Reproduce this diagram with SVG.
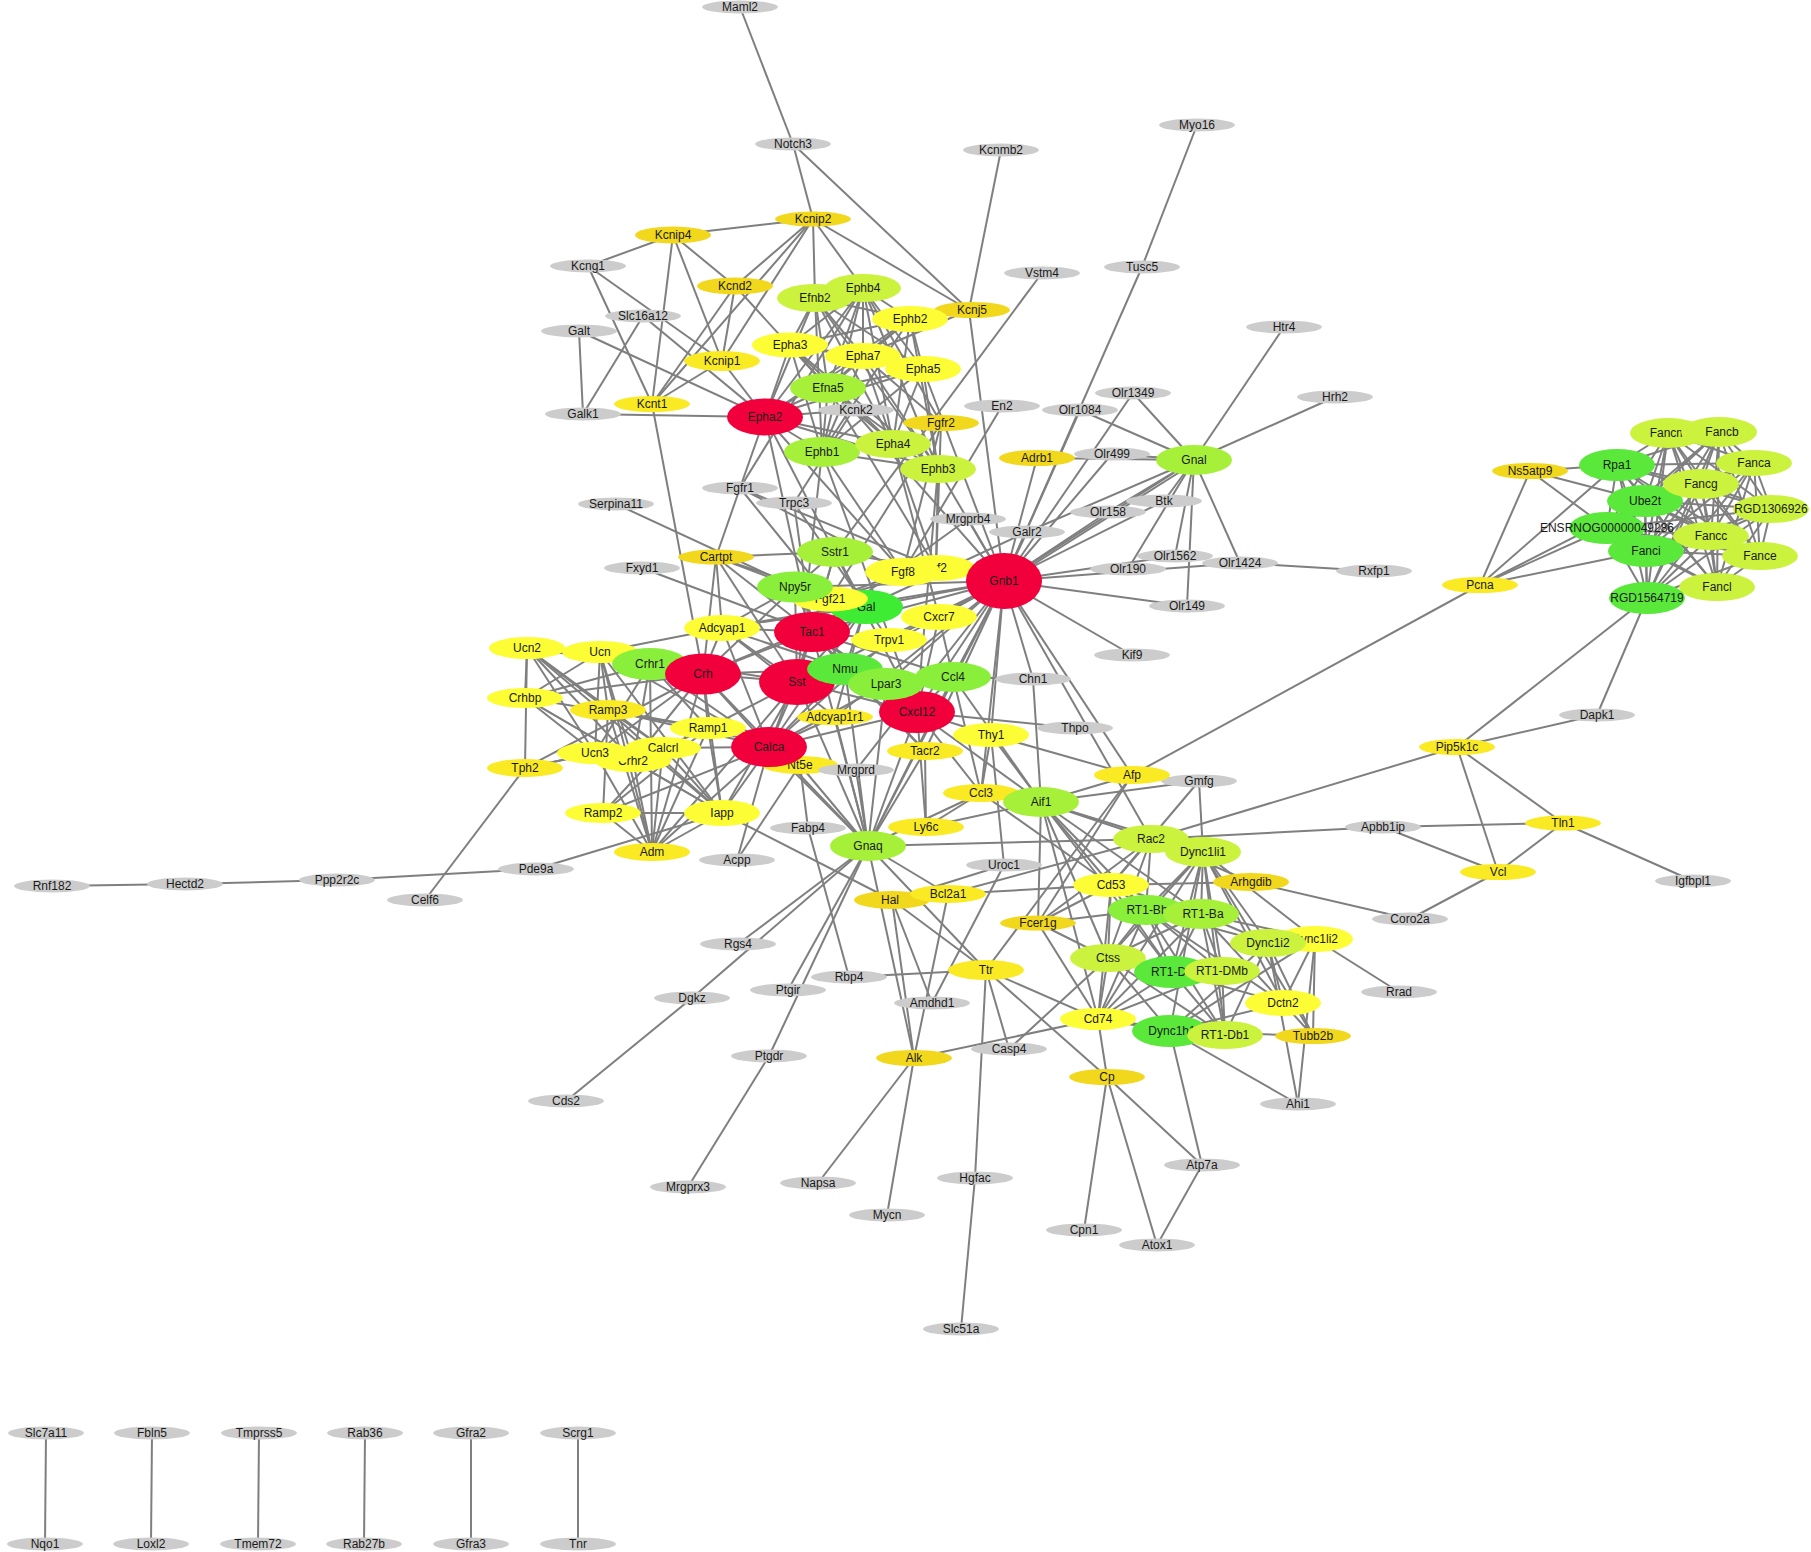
<svg xmlns="http://www.w3.org/2000/svg" width="1811" height="1552" viewBox="0 0 1811 1552">
<style>
#edges path{stroke:#7f7f7f;stroke-width:2;fill:none}
text{font-family:"Liberation Sans",Arial,sans-serif;font-size:12px;text-anchor:middle;fill:#1a1a1a}
.n ellipse{fill:#cccccc}
.r ellipse{fill:#f2003c}
.y1 ellipse{fill:#f2d81c}
.y2 ellipse{fill:#f9ea24}
.y3 ellipse{fill:#fdfd35}
.yg ellipse{fill:#cbf23c}
.g ellipse{fill:#a6f03a}
.g1 ellipse{fill:#8aef3a}
.gg ellipse{fill:#5ae83a}
.g0 ellipse{fill:#3eec34}
</style>
<rect width="1811" height="1552" fill="#ffffff"/>
<g id="edges">
<path d="M740 7L793 144"/><path d="M793 144L813 219"/><path d="M793 144L969 310"/><path d="M1001 150L969 310"/><path d="M1197 125L1142 267"/><path d="M1142 267L1004 581"/><path d="M1042 273L835 552"/><path d="M1002 406L903 572"/>
<path d="M813 219L673 235"/><path d="M813 219L735 286"/><path d="M813 219L722 361"/><path d="M813 219L652 404"/><path d="M813 219L815 298"/><path d="M813 219L863 288"/><path d="M813 219L969 310"/>
<path d="M673 235L588 266"/><path d="M673 235L735 286"/><path d="M673 235L722 361"/><path d="M673 235L652 404"/><path d="M588 266L722 361"/><path d="M588 266L652 404"/>
<path d="M643 316L583 414"/><path d="M643 316L765 417"/><path d="M579 331L583 414"/><path d="M579 331L765 417"/><path d="M583 414L765 417"/>
<path d="M735 286L652 404"/><path d="M735 286L722 361"/><path d="M735 286L828 388"/><path d="M722 361L652 404"/><path d="M722 361L765 417"/><path d="M652 404L703 674"/>
<path d="M853 410L765 417"/><path d="M853 410L794 503"/><path d="M853 410L1004 581"/><path d="M969 310L863 356"/>
<path d="M815 298L863 288"/><path d="M815 298L910 319"/><path d="M815 298L790 345"/><path d="M815 298L863 356"/><path d="M815 298L923 369"/><path d="M815 298L828 388"/><path d="M815 298L765 417"/><path d="M815 298L822 452"/><path d="M815 298L893 444"/><path d="M815 298L938 469"/>
<path d="M863 288L910 319"/><path d="M863 288L790 345"/><path d="M863 288L863 356"/><path d="M863 288L923 369"/><path d="M863 288L828 388"/><path d="M863 288L765 417"/><path d="M863 288L822 452"/><path d="M863 288L893 444"/><path d="M863 288L938 469"/>
<path d="M910 319L790 345"/><path d="M910 319L863 356"/><path d="M910 319L923 369"/><path d="M910 319L828 388"/><path d="M910 319L765 417"/><path d="M910 319L822 452"/><path d="M910 319L893 444"/><path d="M910 319L938 469"/>
<path d="M790 345L863 356"/><path d="M790 345L923 369"/><path d="M790 345L828 388"/><path d="M790 345L765 417"/><path d="M790 345L822 452"/><path d="M790 345L893 444"/><path d="M790 345L938 469"/>
<path d="M863 356L923 369"/><path d="M863 356L828 388"/><path d="M863 356L765 417"/><path d="M863 356L822 452"/><path d="M863 356L893 444"/><path d="M863 356L938 469"/>
<path d="M923 369L828 388"/><path d="M923 369L765 417"/><path d="M923 369L822 452"/><path d="M923 369L893 444"/><path d="M923 369L938 469"/>
<path d="M828 388L765 417"/><path d="M828 388L822 452"/><path d="M828 388L893 444"/><path d="M828 388L938 469"/>
<path d="M765 417L822 452"/><path d="M765 417L893 444"/><path d="M765 417L938 469"/><path d="M822 452L893 444"/><path d="M822 452L938 469"/><path d="M893 444L938 469"/>
<path d="M941 423L903 572"/><path d="M941 423L936 568"/><path d="M941 423L830 599"/><path d="M941 423L863 288"/><path d="M941 423L863 356"/>
<path d="M740 488L903 572"/><path d="M740 488L936 568"/><path d="M740 488L830 599"/><path d="M740 488L716 557"/><path d="M740 488L765 417"/><path d="M740 488L863 288"/>
<path d="M903 572L830 599"/><path d="M936 568L830 599"/>
<path d="M765 417L917 712"/><path d="M822 452L917 712"/><path d="M938 469L917 712"/><path d="M765 417L903 572"/><path d="M822 452L903 572"/><path d="M938 469L936 568"/><path d="M893 444L936 568"/><path d="M828 388L936 568"/><path d="M765 417L812 632"/><path d="M822 452L797 682"/><path d="M893 444L939 617"/><path d="M938 469L1004 581"/><path d="M923 369L1004 581"/>
<path d="M794 503L889 640"/><path d="M794 503L812 632"/><path d="M616 504L795 587"/><path d="M642 568L812 632"/>
<path d="M716 557L795 587"/><path d="M716 557L722 628"/><path d="M716 557L865 607"/><path d="M716 557L703 674"/><path d="M716 557L797 682"/><path d="M716 557L812 632"/>
<path d="M1004 581L1133 393"/><path d="M1004 581L1080 410"/><path d="M1004 581L1112 454"/><path d="M1004 581L1037 458"/><path d="M1004 581L1108 512"/><path d="M1004 581L1164 501"/><path d="M1004 581L1175 556"/><path d="M1004 581L1187 606"/><path d="M1004 581L1240 563"/><path d="M1004 581L1132 655"/><path d="M1004 581L1027 532"/><path d="M1004 581L968 519"/><path d="M1004 581L969 310"/><path d="M1004 581L1194 460"/><path d="M1004 583L1194 463"/>
<path d="M1004 581L835 552"/><path d="M1004 581L795 587"/><path d="M1004 581L939 617"/><path d="M1004 581L865 607"/><path d="M1004 581L797 682"/><path d="M1004 581L845 669"/><path d="M1004 581L886 684"/><path d="M1004 581L953 677"/><path d="M1004 581L917 712"/><path d="M1004 581L835 717"/><path d="M1004 581L925 751"/><path d="M1004 581L991 735"/><path d="M1004 581L1132 775"/><path d="M1004 581L1151 839"/><path d="M1004 581L868 846"/><path d="M1004 581L981 793"/><path d="M1004 581L856 770"/><path d="M1004 581L889 640"/><path d="M1004 581L812 632"/><path d="M1004 581L1033 679"/><path d="M1004 581L722 628"/>
<path d="M1194 460L1284 327"/><path d="M1194 460L1335 397"/><path d="M1194 460L1133 393"/><path d="M1194 460L1080 410"/><path d="M1194 460L1112 454"/><path d="M1194 460L1037 458"/><path d="M1194 460L1164 501"/><path d="M1194 460L1108 512"/><path d="M1194 460L1175 556"/><path d="M1194 460L1128 569"/><path d="M1194 460L1187 606"/><path d="M1194 460L1240 563"/><path d="M1194 460L1027 532"/>
<path d="M1240 563L1374 571"/><path d="M968 519L812 632"/><path d="M1027 532L865 607"/>
<path d="M835 552L797 682"/><path d="M835 552L795 587"/><path d="M835 552L865 607"/><path d="M835 552L812 632"/><path d="M835 552L716 557"/>
<path d="M795 587L865 607"/><path d="M795 587L812 632"/><path d="M795 587L797 682"/><path d="M795 587L703 674"/><path d="M795 587L722 628"/><path d="M795 587L845 669"/>
<path d="M865 607L812 632"/><path d="M865 607L797 682"/><path d="M865 607L703 674"/><path d="M865 607L845 669"/><path d="M865 607L769 747"/><path d="M865 607L722 628"/><path d="M865 607L835 717"/>
<path d="M812 632L925 751"/><path d="M812 632L797 682"/><path d="M812 632L703 674"/><path d="M812 632L769 747"/><path d="M812 632L845 669"/><path d="M812 632L722 628"/><path d="M812 632L917 712"/><path d="M812 632L889 640"/><path d="M812 632L953 677"/><path d="M812 632L868 846"/><path d="M812 632L886 684"/>
<path d="M797 682L703 674"/><path d="M797 682L769 747"/><path d="M797 682L845 669"/><path d="M797 682L722 628"/><path d="M797 682L868 846"/><path d="M797 682L917 712"/><path d="M797 682L722 813"/><path d="M797 682L652 852"/><path d="M797 682L600 652"/><path d="M797 682L708 728"/>
<path d="M703 674L650 664"/><path d="M703 674L633 761"/><path d="M703 674L600 652"/><path d="M703 674L527 648"/><path d="M703 674L595 753"/><path d="M703 674L525 698"/><path d="M703 674L722 628"/><path d="M703 674L769 747"/><path d="M703 674L845 669"/><path d="M703 674L708 728"/><path d="M703 674L722 813"/><path d="M703 674L652 852"/><path d="M703 674L868 846"/><path d="M703 674L525 768"/>
<path d="M600 652L527 648"/><path d="M600 652L650 664"/><path d="M600 652L633 761"/><path d="M600 652L525 698"/><path d="M600 652L595 753"/><path d="M600 652L722 628"/><path d="M600 652L769 747"/><path d="M600 652L652 852"/><path d="M600 652L608 710"/><path d="M600 652L722 813"/>
<path d="M527 648L650 664"/><path d="M527 648L633 761"/><path d="M527 648L525 698"/><path d="M527 648L595 753"/><path d="M527 648L608 710"/><path d="M527 648L525 768"/><path d="M527 648L722 813"/><path d="M527 648L663 748"/>
<path d="M595 753L650 664"/><path d="M595 753L525 698"/><path d="M595 753L525 768"/><path d="M595 753L652 852"/>
<path d="M525 698L650 664"/><path d="M525 698L633 761"/><path d="M525 698L708 728"/><path d="M525 698L722 813"/>
<path d="M650 664L633 761"/><path d="M650 664L708 728"/><path d="M650 664L769 747"/><path d="M650 664L652 852"/><path d="M633 761L652 852"/><path d="M633 761L722 813"/>
<path d="M769 747L663 748"/><path d="M769 747L708 728"/><path d="M769 747L603 813"/><path d="M769 747L608 710"/><path d="M769 747L652 852"/><path d="M769 747L722 813"/><path d="M769 747L722 628"/><path d="M769 747L845 669"/><path d="M769 747L868 846"/><path d="M769 747L917 712"/><path d="M769 747L800 765"/><path d="M769 747L737 860"/><path d="M769 747L835 717"/><path d="M769 747L889 640"/><path d="M769 747L886 684"/>
<path d="M663 748L708 728"/><path d="M663 748L603 813"/><path d="M663 748L608 710"/><path d="M663 748L652 852"/><path d="M663 748L722 813"/>
<path d="M708 728L652 852"/><path d="M708 728L722 813"/><path d="M708 728L603 813"/><path d="M708 728L608 710"/>
<path d="M603 813L652 852"/><path d="M603 813L722 813"/><path d="M603 813L608 710"/><path d="M608 710L652 852"/><path d="M608 710L722 813"/><path d="M652 852L722 813"/>
<path d="M722 813L892 900"/><path d="M722 813L536 869"/>
<path d="M722 628L835 717"/><path d="M722 628L845 669"/><path d="M835 717L868 846"/>
<path d="M845 669L886 684"/><path d="M845 669L868 846"/><path d="M845 669L917 712"/>
<path d="M886 684L953 677"/><path d="M886 684L917 712"/><path d="M886 684L868 846"/>
<path d="M953 677L917 712"/><path d="M953 677L981 793"/><path d="M953 677L939 617"/><path d="M953 677L868 846"/><path d="M953 677L1033 679"/><path d="M953 677L1041 802"/>
<path d="M917 712L939 617"/><path d="M917 712L981 793"/><path d="M917 712L868 846"/><path d="M917 712L991 735"/><path d="M917 712L1075 728"/><path d="M917 712L926 827"/><path d="M917 712L1041 802"/>
<path d="M991 735L981 793"/><path d="M991 735L1041 802"/><path d="M991 735L1004 865"/><path d="M991 735L1132 775"/>
<path d="M925 751L868 846"/><path d="M925 751L926 827"/><path d="M925 751L845 669"/>
<path d="M981 793L1041 802"/><path d="M981 793L868 846"/><path d="M981 793L926 827"/><path d="M981 793L1111 885"/><path d="M926 827L1041 802"/>
<path d="M525 768L595 753"/><path d="M525 768L425 900"/><path d="M536 869L337 880"/><path d="M337 880L185 884"/><path d="M185 884L52 886"/>
<path d="M856 770L868 846"/><path d="M800 765L808 828"/><path d="M800 765L737 860"/><path d="M800 765L868 846"/><path d="M808 828L849 977"/><path d="M849 977L986 970"/>
<path d="M868 846L1151 839"/><path d="M868 846L738 944"/><path d="M868 846L692 998"/><path d="M868 846L788 990"/><path d="M868 846L769 1056"/><path d="M868 846L948 894"/><path d="M868 846L914 1058"/><path d="M868 846L986 970"/>
<path d="M692 998L566 1101"/><path d="M769 1056L688 1187"/>
<path d="M1132 775L1480 585"/><path d="M1132 775L1199 781"/><path d="M1132 775L1041 802"/><path d="M1132 775L986 970"/><path d="M1132 775L1038 923"/>
<path d="M1199 781L1041 802"/><path d="M1199 781L1111 885"/><path d="M1199 781L1203 852"/>
<path d="M1041 802L1151 839"/><path d="M1041 802L1111 885"/><path d="M1041 802L1108 958"/><path d="M1041 802L1038 923"/><path d="M1041 802L1203 852"/><path d="M1041 802L1201 914"/><path d="M1041 802L1146 910"/><path d="M1041 802L1098 1019"/><path d="M1041 802L1033 679"/><path d="M1041 802L1172 972"/>
<path d="M1151 839L1111 885"/><path d="M1151 839L1108 958"/><path d="M1151 839L1383 827"/><path d="M1151 839L1251 882"/><path d="M1151 839L1203 852"/><path d="M1151 839L1146 910"/><path d="M1151 839L948 894"/><path d="M1151 839L1457 747"/><path d="M1151 839L1038 923"/>
<path d="M1111 885L1251 882"/><path d="M1111 885L1108 958"/><path d="M1111 885L1146 910"/><path d="M1111 885L1201 914"/><path d="M1111 885L1172 972"/><path d="M1111 885L1098 1019"/><path d="M1111 885L1038 923"/><path d="M1111 885L948 894"/>
<path d="M1146 910L1201 914"/><path d="M1146 910L1172 972"/><path d="M1146 910L1222 971"/><path d="M1146 910L1225 1035"/><path d="M1146 910L1098 1019"/><path d="M1146 910L1108 958"/>
<path d="M1201 914L1172 972"/><path d="M1201 914L1222 971"/><path d="M1201 914L1225 1035"/><path d="M1201 914L1098 1019"/><path d="M1201 914L1108 958"/>
<path d="M1172 972L1222 971"/><path d="M1172 972L1225 1035"/><path d="M1172 972L1098 1019"/><path d="M1172 972L1108 958"/>
<path d="M1222 971L1225 1035"/><path d="M1222 971L1098 1019"/><path d="M1222 971L1108 958"/><path d="M1225 1035L1098 1019"/><path d="M1225 1035L1108 958"/><path d="M1098 1019L1108 958"/>
<path d="M1038 923L1108 958"/><path d="M1038 923L1146 910"/><path d="M1038 923L1098 1019"/>
<path d="M1203 852L1315 939"/><path d="M1203 852L1268 943"/><path d="M1203 852L1170 1031"/><path d="M1203 852L1283 1003"/><path d="M1203 852L1313 1036"/>
<path d="M1315 939L1268 943"/><path d="M1315 939L1170 1031"/><path d="M1315 939L1283 1003"/><path d="M1315 939L1313 1036"/>
<path d="M1268 943L1170 1031"/><path d="M1268 943L1283 1003"/><path d="M1268 943L1313 1036"/><path d="M1170 1031L1283 1003"/><path d="M1170 1031L1313 1036"/><path d="M1283 1003L1313 1036"/>
<path d="M1203 852L1172 972"/><path d="M1203 852L1225 1035"/><path d="M1203 852L1108 958"/><path d="M1203 852L1098 1019"/><path d="M1203 852L1222 971"/><path d="M1268 943L1146 910"/><path d="M1268 943L1201 914"/><path d="M1170 1031L1108 958"/><path d="M1170 1031L1098 1019"/><path d="M1315 939L1201 914"/><path d="M1283 1003L1146 910"/><path d="M1283 1003L1201 914"/><path d="M1203 852L1146 910"/><path d="M1203 852L1201 914"/><path d="M1268 943L1225 1035"/><path d="M1283 1003L1172 972"/>
<path d="M1251 882L1410 919"/><path d="M1383 827L1563 823"/><path d="M1383 827L1498 872"/>
<path d="M1457 747L1563 823"/><path d="M1457 747L1498 872"/><path d="M1457 747L1597 715"/><path d="M1457 747L1647 598"/>
<path d="M1563 823L1498 872"/><path d="M1563 823L1693 881"/><path d="M1498 872L1410 919"/><path d="M1597 715L1647 598"/>
<path d="M1315 939L1399 992"/><path d="M1298 1104L1170 1031"/><path d="M1298 1104L1315 939"/><path d="M1298 1104L1268 943"/>
<path d="M1202 1165L1170 1031"/><path d="M1202 1165L1157 1245"/><path d="M1202 1165L1107 1077"/>
<path d="M1107 1077L1098 1019"/><path d="M1107 1077L986 970"/><path d="M1107 1077L1084 1230"/><path d="M1107 1077L1157 1245"/>
<path d="M1098 1019L914 1058"/><path d="M1098 1019L986 970"/><path d="M1108 958L1009 1049"/><path d="M1009 1049L986 970"/>
<path d="M986 970L892 900"/><path d="M986 970L975 1178"/><path d="M975 1178L961 1329"/>
<path d="M892 900L948 894"/><path d="M892 900L1004 865"/><path d="M892 900L932 1003"/><path d="M892 900L914 1058"/><path d="M1004 865L932 1003"/><path d="M948 894L914 1058"/>
<path d="M914 1058L818 1183"/><path d="M914 1058L887 1215"/>
<path d="M1480 585L1530 471"/><path d="M1480 585L1617 465"/><path d="M1480 585L1645 501"/><path d="M1480 585L1607 528"/><path d="M1480 585L1646 551"/>
<path d="M1530 471L1617 465"/><path d="M1530 471L1645 501"/><path d="M1530 471L1607 528"/>
<path d="M1668 433L1719 432"/><path d="M1668 433L1617 465"/><path d="M1668 433L1754 463"/><path d="M1668 433L1701 484"/><path d="M1668 433L1645 501"/><path d="M1668 433L1771 509"/><path d="M1668 433L1607 528"/><path d="M1668 433L1711 536"/><path d="M1668 433L1646 551"/><path d="M1668 433L1760 556"/><path d="M1668 433L1717 587"/><path d="M1668 433L1647 598"/>
<path d="M1719 432L1617 465"/><path d="M1719 432L1754 463"/><path d="M1719 432L1701 484"/><path d="M1719 432L1645 501"/><path d="M1719 432L1771 509"/><path d="M1719 432L1607 528"/><path d="M1719 432L1711 536"/><path d="M1719 432L1646 551"/><path d="M1719 432L1760 556"/><path d="M1719 432L1717 587"/><path d="M1719 432L1647 598"/>
<path d="M1617 465L1754 463"/><path d="M1617 465L1701 484"/><path d="M1617 465L1645 501"/><path d="M1617 465L1771 509"/><path d="M1617 465L1607 528"/><path d="M1617 465L1711 536"/><path d="M1617 465L1646 551"/><path d="M1617 465L1760 556"/><path d="M1617 465L1717 587"/><path d="M1617 465L1647 598"/>
<path d="M1754 463L1701 484"/><path d="M1754 463L1645 501"/><path d="M1754 463L1771 509"/><path d="M1754 463L1607 528"/><path d="M1754 463L1711 536"/><path d="M1754 463L1646 551"/><path d="M1754 463L1760 556"/><path d="M1754 463L1717 587"/><path d="M1754 463L1647 598"/>
<path d="M1701 484L1645 501"/><path d="M1701 484L1771 509"/><path d="M1701 484L1607 528"/><path d="M1701 484L1711 536"/><path d="M1701 484L1646 551"/><path d="M1701 484L1760 556"/><path d="M1701 484L1717 587"/><path d="M1701 484L1647 598"/>
<path d="M1645 501L1771 509"/><path d="M1645 501L1607 528"/><path d="M1645 501L1711 536"/><path d="M1645 501L1646 551"/><path d="M1645 501L1760 556"/><path d="M1645 501L1717 587"/><path d="M1645 501L1647 598"/>
<path d="M1771 509L1607 528"/><path d="M1771 509L1711 536"/><path d="M1771 509L1646 551"/><path d="M1771 509L1760 556"/><path d="M1771 509L1717 587"/><path d="M1771 509L1647 598"/>
<path d="M1607 528L1711 536"/><path d="M1607 528L1646 551"/><path d="M1607 528L1760 556"/><path d="M1607 528L1717 587"/><path d="M1607 528L1647 598"/>
<path d="M1711 536L1646 551"/><path d="M1711 536L1760 556"/><path d="M1711 536L1717 587"/><path d="M1711 536L1647 598"/>
<path d="M1646 551L1760 556"/><path d="M1646 551L1717 587"/><path d="M1646 551L1647 598"/><path d="M1760 556L1717 587"/><path d="M1760 556L1647 598"/><path d="M1717 587L1647 598"/>
<path d="M46 1433L45 1544"/><path d="M152 1433L151 1544"/><path d="M259 1433L258 1544"/><path d="M365 1433L364 1544"/><path d="M471 1433L471 1544"/><path d="M578 1433L578 1544"/>
</g>
<g id="nodes">
<g id="n-Maml2" class="n"><ellipse cx="740" cy="7" rx="38" ry="6.5"/><text x="740" y="11">Maml2</text></g>
<g id="n-Notch3" class="n"><ellipse cx="793" cy="144" rx="38" ry="6.5"/><text x="793" y="148">Notch3</text></g>
<g id="n-Myo16" class="n"><ellipse cx="1197" cy="125" rx="38" ry="6.5"/><text x="1197" y="129">Myo16</text></g>
<g id="n-Kcnmb2" class="n"><ellipse cx="1001" cy="150" rx="38" ry="6.5"/><text x="1001" y="154">Kcnmb2</text></g>
<g id="n-Kcng1" class="n"><ellipse cx="588" cy="266" rx="38" ry="6.5"/><text x="588" y="270">Kcng1</text></g>
<g id="n-Vstm4" class="n"><ellipse cx="1042" cy="273" rx="38" ry="6.5"/><text x="1042" y="277">Vstm4</text></g>
<g id="n-Tusc5" class="n"><ellipse cx="1142" cy="267" rx="38" ry="6.5"/><text x="1142" y="271">Tusc5</text></g>
<g id="n-Slc16a12" class="n"><ellipse cx="643" cy="316" rx="38" ry="6.5"/><text x="643" y="320">Slc16a12</text></g>
<g id="n-Galt" class="n"><ellipse cx="579" cy="331" rx="38" ry="6.5"/><text x="579" y="335">Galt</text></g>
<g id="n-Htr4" class="n"><ellipse cx="1284" cy="327" rx="38" ry="6.5"/><text x="1284" y="331">Htr4</text></g>
<g id="n-Hrh2" class="n"><ellipse cx="1335" cy="397" rx="38" ry="6.5"/><text x="1335" y="401">Hrh2</text></g>
<g id="n-Olr1349" class="n"><ellipse cx="1133" cy="393" rx="38" ry="6.5"/><text x="1133" y="397">Olr1349</text></g>
<g id="n-Olr1084" class="n"><ellipse cx="1080" cy="410" rx="38" ry="6.5"/><text x="1080" y="414">Olr1084</text></g>
<g id="n-En2" class="n"><ellipse cx="1002" cy="406" rx="38" ry="6.5"/><text x="1002" y="410">En2</text></g>
<g id="n-Kcnk2" class="n"><ellipse cx="856" cy="410" rx="38" ry="6.5"/><text x="856" y="414">Kcnk2</text></g>
<g id="n-Galk1" class="n"><ellipse cx="583" cy="414" rx="38" ry="6.5"/><text x="583" y="418">Galk1</text></g>
<g id="n-Olr499" class="n"><ellipse cx="1112" cy="454" rx="38" ry="6.5"/><text x="1112" y="458">Olr499</text></g>
<g id="n-Fgfr1" class="n"><ellipse cx="740" cy="488" rx="38" ry="6.5"/><text x="740" y="492">Fgfr1</text></g>
<g id="n-Trpc3" class="n"><ellipse cx="794" cy="503" rx="38" ry="6.5"/><text x="794" y="507">Trpc3</text></g>
<g id="n-Serpina11" class="n"><ellipse cx="616" cy="504" rx="38" ry="6.5"/><text x="616" y="508">Serpina11</text></g>
<g id="n-Olr158" class="n"><ellipse cx="1108" cy="512" rx="38" ry="6.5"/><text x="1108" y="516">Olr158</text></g>
<g id="n-Btk" class="n"><ellipse cx="1164" cy="501" rx="38" ry="6.5"/><text x="1164" y="505">Btk</text></g>
<g id="n-Mrgprb4" class="n"><ellipse cx="968" cy="519" rx="38" ry="6.5"/><text x="968" y="523">Mrgprb4</text></g>
<g id="n-Galr2" class="n"><ellipse cx="1027" cy="532" rx="38" ry="6.5"/><text x="1027" y="536">Galr2</text></g>
<g id="n-Fxyd1" class="n"><ellipse cx="642" cy="568" rx="38" ry="6.5"/><text x="642" y="572">Fxyd1</text></g>
<g id="n-Olr190" class="n"><ellipse cx="1128" cy="569" rx="38" ry="6.5"/><text x="1128" y="573">Olr190</text></g>
<g id="n-Olr1562" class="n"><ellipse cx="1175" cy="556" rx="38" ry="6.5"/><text x="1175" y="560">Olr1562</text></g>
<g id="n-Olr1424" class="n"><ellipse cx="1240" cy="563" rx="38" ry="6.5"/><text x="1240" y="567">Olr1424</text></g>
<g id="n-Rxfp1" class="n"><ellipse cx="1374" cy="571" rx="38" ry="6.5"/><text x="1374" y="575">Rxfp1</text></g>
<g id="n-Olr149" class="n"><ellipse cx="1187" cy="606" rx="38" ry="6.5"/><text x="1187" y="610">Olr149</text></g>
<g id="n-Kif9" class="n"><ellipse cx="1132" cy="655" rx="38" ry="6.5"/><text x="1132" y="659">Kif9</text></g>
<g id="n-Chn1" class="n"><ellipse cx="1033" cy="679" rx="38" ry="6.5"/><text x="1033" y="683">Chn1</text></g>
<g id="n-Thpo" class="n"><ellipse cx="1075" cy="728" rx="38" ry="6.5"/><text x="1075" y="732">Thpo</text></g>
<g id="n-Dapk1" class="n"><ellipse cx="1597" cy="715" rx="38" ry="6.5"/><text x="1597" y="719">Dapk1</text></g>
<g id="n-Gmfg" class="n"><ellipse cx="1199" cy="781" rx="38" ry="6.5"/><text x="1199" y="785">Gmfg</text></g>
<g id="n-Apbb1ip" class="n"><ellipse cx="1383" cy="827" rx="38" ry="6.5"/><text x="1383" y="831">Apbb1ip</text></g>
<g id="n-Fabp4" class="n"><ellipse cx="808" cy="828" rx="38" ry="6.5"/><text x="808" y="832">Fabp4</text></g>
<g id="n-Acpp" class="n"><ellipse cx="737" cy="860" rx="38" ry="6.5"/><text x="737" y="864">Acpp</text></g>
<g id="n-Uroc1" class="n"><ellipse cx="1004" cy="865" rx="38" ry="6.5"/><text x="1004" y="869">Uroc1</text></g>
<g id="n-Pde9a" class="n"><ellipse cx="536" cy="869" rx="38" ry="6.5"/><text x="536" y="873">Pde9a</text></g>
<g id="n-Rnf182" class="n"><ellipse cx="52" cy="886" rx="38" ry="6.5"/><text x="52" y="890">Rnf182</text></g>
<g id="n-Hectd2" class="n"><ellipse cx="185" cy="884" rx="38" ry="6.5"/><text x="185" y="888">Hectd2</text></g>
<g id="n-Ppp2r2c" class="n"><ellipse cx="337" cy="880" rx="38" ry="6.5"/><text x="337" y="884">Ppp2r2c</text></g>
<g id="n-Celf6" class="n"><ellipse cx="425" cy="900" rx="38" ry="6.5"/><text x="425" y="904">Celf6</text></g>
<g id="n-Igfbpl1" class="n"><ellipse cx="1693" cy="881" rx="38" ry="6.5"/><text x="1693" y="885">Igfbpl1</text></g>
<g id="n-Coro2a" class="n"><ellipse cx="1410" cy="919" rx="38" ry="6.5"/><text x="1410" y="923">Coro2a</text></g>
<g id="n-Rgs4" class="n"><ellipse cx="738" cy="944" rx="38" ry="6.5"/><text x="738" y="948">Rgs4</text></g>
<g id="n-Rbp4" class="n"><ellipse cx="849" cy="977" rx="38" ry="6.5"/><text x="849" y="981">Rbp4</text></g>
<g id="n-Ptgir" class="n"><ellipse cx="788" cy="990" rx="38" ry="6.5"/><text x="788" y="994">Ptgir</text></g>
<g id="n-Dgkz" class="n"><ellipse cx="692" cy="998" rx="38" ry="6.5"/><text x="692" y="1002">Dgkz</text></g>
<g id="n-Rrad" class="n"><ellipse cx="1399" cy="992" rx="38" ry="6.5"/><text x="1399" y="996">Rrad</text></g>
<g id="n-Amdhd1" class="n"><ellipse cx="932" cy="1003" rx="38" ry="6.5"/><text x="932" y="1007">Amdhd1</text></g>
<g id="n-Casp4" class="n"><ellipse cx="1009" cy="1049" rx="38" ry="6.5"/><text x="1009" y="1053">Casp4</text></g>
<g id="n-Ptgdr" class="n"><ellipse cx="769" cy="1056" rx="38" ry="6.5"/><text x="769" y="1060">Ptgdr</text></g>
<g id="n-Cds2" class="n"><ellipse cx="566" cy="1101" rx="38" ry="6.5"/><text x="566" y="1105">Cds2</text></g>
<g id="n-Ahi1" class="n"><ellipse cx="1298" cy="1104" rx="38" ry="6.5"/><text x="1298" y="1108">Ahi1</text></g>
<g id="n-Atp7a" class="n"><ellipse cx="1202" cy="1165" rx="38" ry="6.5"/><text x="1202" y="1169">Atp7a</text></g>
<g id="n-Hgfac" class="n"><ellipse cx="975" cy="1178" rx="38" ry="6.5"/><text x="975" y="1182">Hgfac</text></g>
<g id="n-Napsa" class="n"><ellipse cx="818" cy="1183" rx="38" ry="6.5"/><text x="818" y="1187">Napsa</text></g>
<g id="n-Mrgprx3" class="n"><ellipse cx="688" cy="1187" rx="38" ry="6.5"/><text x="688" y="1191">Mrgprx3</text></g>
<g id="n-Mycn" class="n"><ellipse cx="887" cy="1215" rx="38" ry="6.5"/><text x="887" y="1219">Mycn</text></g>
<g id="n-Cpn1" class="n"><ellipse cx="1084" cy="1230" rx="38" ry="6.5"/><text x="1084" y="1234">Cpn1</text></g>
<g id="n-Atox1" class="n"><ellipse cx="1157" cy="1245" rx="38" ry="6.5"/><text x="1157" y="1249">Atox1</text></g>
<g id="n-Slc51a" class="n"><ellipse cx="961" cy="1329" rx="38" ry="6.5"/><text x="961" y="1333">Slc51a</text></g>
<g id="n-Slc7a11" class="n"><ellipse cx="46" cy="1433" rx="38" ry="6.5"/><text x="46" y="1437">Slc7a11</text></g>
<g id="n-Nqo1" class="n"><ellipse cx="45" cy="1544" rx="38" ry="6.5"/><text x="45" y="1548">Nqo1</text></g>
<g id="n-Fbln5" class="n"><ellipse cx="152" cy="1433" rx="38" ry="6.5"/><text x="152" y="1437">Fbln5</text></g>
<g id="n-Loxl2" class="n"><ellipse cx="151" cy="1544" rx="38" ry="6.5"/><text x="151" y="1548">Loxl2</text></g>
<g id="n-Tmprss5" class="n"><ellipse cx="259" cy="1433" rx="38" ry="6.5"/><text x="259" y="1437">Tmprss5</text></g>
<g id="n-Tmem72" class="n"><ellipse cx="258" cy="1544" rx="38" ry="6.5"/><text x="258" y="1548">Tmem72</text></g>
<g id="n-Rab36" class="n"><ellipse cx="365" cy="1433" rx="38" ry="6.5"/><text x="365" y="1437">Rab36</text></g>
<g id="n-Rab27b" class="n"><ellipse cx="364" cy="1544" rx="38" ry="6.5"/><text x="364" y="1548">Rab27b</text></g>
<g id="n-Gfra2" class="n"><ellipse cx="471" cy="1433" rx="38" ry="6.5"/><text x="471" y="1437">Gfra2</text></g>
<g id="n-Gfra3" class="n"><ellipse cx="471" cy="1544" rx="38" ry="6.5"/><text x="471" y="1548">Gfra3</text></g>
<g id="n-Scrg1" class="n"><ellipse cx="578" cy="1433" rx="38" ry="6.5"/><text x="578" y="1437">Scrg1</text></g>
<g id="n-Tnr" class="n"><ellipse cx="578" cy="1544" rx="38" ry="6.5"/><text x="578" y="1548">Tnr</text></g>

<g id="n-Kcnip2" class="y1"><ellipse cx="813" cy="219" rx="38" ry="7.5"/><text x="813" y="223">Kcnip2</text></g>
<g id="n-Kcnip4" class="y1"><ellipse cx="673" cy="235" rx="38" ry="8.5"/><text x="673" y="239">Kcnip4</text></g>
<g id="n-Kcnd2" class="y1"><ellipse cx="735" cy="286" rx="38" ry="8.5"/><text x="735" y="290">Kcnd2</text></g>
<g id="n-Kcnj5" class="y1"><ellipse cx="972" cy="310" rx="38" ry="8"/><text x="972" y="314">Kcnj5</text></g>
<g id="n-Efnb2" class="yg"><ellipse cx="815" cy="298" rx="38" ry="14"/><text x="815" y="302">Efnb2</text></g>
<g id="n-Ephb4" class="yg"><ellipse cx="863" cy="288" rx="38" ry="14"/><text x="863" y="292">Ephb4</text></g>
<g id="n-Ephb2" class="y3"><ellipse cx="910" cy="319" rx="38" ry="13"/><text x="910" y="323">Ephb2</text></g>
<g id="n-Epha3" class="y3"><ellipse cx="790" cy="345" rx="38" ry="12.5"/><text x="790" y="349">Epha3</text></g>
<g id="n-Kcnip1" class="y2"><ellipse cx="722" cy="361" rx="38" ry="10"/><text x="722" y="365">Kcnip1</text></g>
<g id="n-Epha7" class="y3"><ellipse cx="863" cy="356" rx="38" ry="13"/><text x="863" y="360">Epha7</text></g>
<g id="n-Epha5" class="y3"><ellipse cx="923" cy="369" rx="38" ry="13"/><text x="923" y="373">Epha5</text></g>
<g id="n-Kcnt1" class="y2"><ellipse cx="652" cy="404" rx="38" ry="8"/><text x="652" y="408">Kcnt1</text></g>
<g id="n-Epha2" class="r"><ellipse cx="765" cy="417" rx="38" ry="18.5"/><text x="765" y="421">Epha2</text></g>
<g id="n-Efna5" class="g"><ellipse cx="828" cy="388" rx="38" ry="15"/><text x="828" y="392">Efna5</text></g>
<g id="n-Fgfr2" class="y1"><ellipse cx="941" cy="423" rx="38" ry="8"/><text x="941" y="427">Fgfr2</text></g>
<g id="n-Ephb1" class="g"><ellipse cx="822" cy="452" rx="38" ry="15"/><text x="822" y="456">Ephb1</text></g>
<g id="n-Epha4" class="yg"><ellipse cx="893" cy="444" rx="38" ry="14"/><text x="893" y="448">Epha4</text></g>
<g id="n-Ephb3" class="yg"><ellipse cx="938" cy="469" rx="38" ry="14"/><text x="938" y="473">Ephb3</text></g>
<g id="n-Adrb1" class="y1"><ellipse cx="1037" cy="458" rx="38" ry="8"/><text x="1037" y="462">Adrb1</text></g>
<g id="n-Gnal" class="g"><ellipse cx="1194" cy="460" rx="38" ry="15"/><text x="1194" y="464">Gnal</text></g>
<g id="n-Cartpt" class="y1"><ellipse cx="716" cy="557" rx="38" ry="7.5"/><text x="716" y="561">Cartpt</text></g>
<g id="n-Sstr1" class="g"><ellipse cx="835" cy="552" rx="38" ry="15"/><text x="835" y="556">Sstr1</text></g>
<g id="n-Fgf2" class="y3"><ellipse cx="937" cy="568" rx="38" ry="13"/><text x="935" y="572">Fgf2</text></g>
<g id="n-Fgf8" class="y3"><ellipse cx="903" cy="572" rx="38" ry="14"/><text x="903" y="576">Fgf8</text></g>
<g id="n-Gnb1" class="r"><ellipse cx="1004" cy="581" rx="38" ry="28"/><text x="1004" y="585">Gnb1</text></g>
<g id="n-Gal" class="g0"><ellipse cx="866" cy="607" rx="37" ry="17"/><text x="866" y="611">Gal</text></g>
<g id="n-Fgf21" class="y3"><ellipse cx="830" cy="599" rx="38" ry="12.5"/><text x="830" y="603">Fgf21</text></g>
<g id="n-Npy5r" class="g1"><ellipse cx="795" cy="587" rx="38" ry="15.5"/><text x="795" y="591">Npy5r</text></g>
<g id="n-Cxcr7" class="y3"><ellipse cx="939" cy="617" rx="38" ry="13"/><text x="939" y="621">Cxcr7</text></g>
<g id="n-Trpv1" class="y3"><ellipse cx="889" cy="640" rx="38" ry="12"/><text x="889" y="644">Trpv1</text></g>
<g id="n-Tac1" class="r"><ellipse cx="812" cy="632" rx="38" ry="20"/><text x="812" y="636">Tac1</text></g>
<g id="n-Adcyap1" class="y3"><ellipse cx="722" cy="628" rx="38" ry="13"/><text x="722" y="632">Adcyap1</text></g>
<g id="n-Ucn2" class="y3"><ellipse cx="527" cy="648" rx="38" ry="11"/><text x="527" y="652">Ucn2</text></g>
<g id="n-Ucn" class="y3"><ellipse cx="600" cy="652" rx="38" ry="11"/><text x="600" y="656">Ucn</text></g>
<g id="n-Crhr1" class="g1"><ellipse cx="650" cy="664" rx="38" ry="16"/><text x="650" y="668">Crhr1</text></g>
<g id="n-Crh" class="r"><ellipse cx="703" cy="674" rx="38" ry="20.5"/><text x="703" y="678">Crh</text></g>
<g id="n-Sst" class="r"><ellipse cx="797" cy="682" rx="38" ry="23"/><text x="797" y="686">Sst</text></g>
<g id="n-Nmu" class="gg"><ellipse cx="845" cy="669" rx="38" ry="16"/><text x="845" y="673">Nmu</text></g>
<g id="n-Ccl4" class="g1"><ellipse cx="953" cy="677" rx="38" ry="15"/><text x="953" y="681">Ccl4</text></g>
<g id="n-Cxcl12" class="r"><ellipse cx="917" cy="712" rx="38" ry="21"/><text x="917" y="716">Cxcl12</text></g>
<g id="n-Lpar3" class="g1"><ellipse cx="886" cy="684" rx="38" ry="16"/><text x="886" y="688">Lpar3</text></g>
<g id="n-Crhbp" class="y3"><ellipse cx="525" cy="698" rx="38" ry="10"/><text x="525" y="702">Crhbp</text></g>
<g id="n-Ramp3" class="y2"><ellipse cx="608" cy="710" rx="38" ry="10"/><text x="608" y="714">Ramp3</text></g>
<g id="n-Adcyap1r1" class="y2"><ellipse cx="835" cy="717" rx="38" ry="8"/><text x="835" y="721">Adcyap1r1</text></g>
<g id="n-Ramp1" class="y3"><ellipse cx="708" cy="728" rx="38" ry="11"/><text x="708" y="732">Ramp1</text></g>
<g id="n-Thy1" class="y3"><ellipse cx="991" cy="735" rx="38" ry="12"/><text x="991" y="739">Thy1</text></g>
<g id="n-Nt5e" class="y2"><ellipse cx="800" cy="765" rx="38" ry="9"/><text x="800" y="769">Nt5e</text></g>
<g id="n-Calca" class="r"><ellipse cx="769" cy="747" rx="38" ry="20"/><text x="769" y="751">Calca</text></g>
<g id="n-Mrgprd" class="n"><ellipse cx="856" cy="770" rx="38" ry="6.5"/><text x="856" y="774">Mrgprd</text></g>
<g id="n-Tacr2" class="y2"><ellipse cx="925" cy="751" rx="38" ry="9"/><text x="925" y="755">Tacr2</text></g>
<g id="n-Calcrl" class="y3"><ellipse cx="663" cy="748" rx="38" ry="11"/><text x="663" y="752">Calcrl</text></g>
<g id="n-Crhr2" class="y3"><ellipse cx="633" cy="761" rx="38" ry="11"/><text x="633" y="765">Crhr2</text></g>
<g id="n-Ucn3" class="y3"><ellipse cx="595" cy="753" rx="38" ry="11"/><text x="595" y="757">Ucn3</text></g>
<g id="n-Tph2" class="y2"><ellipse cx="525" cy="768" rx="38" ry="9"/><text x="525" y="772">Tph2</text></g>
<g id="n-Afp" class="y2"><ellipse cx="1132" cy="775" rx="38" ry="9"/><text x="1132" y="779">Afp</text></g>
<g id="n-Ccl3" class="y2"><ellipse cx="981" cy="793" rx="38" ry="9"/><text x="981" y="797">Ccl3</text></g>
<g id="n-Aif1" class="g"><ellipse cx="1041" cy="802" rx="38" ry="15"/><text x="1041" y="806">Aif1</text></g>
<g id="n-Ramp2" class="y3"><ellipse cx="603" cy="813" rx="38" ry="10"/><text x="603" y="817">Ramp2</text></g>
<g id="n-Iapp" class="y3"><ellipse cx="722" cy="813" rx="38" ry="13"/><text x="722" y="817">Iapp</text></g>
<g id="n-Ly6c" class="y2"><ellipse cx="926" cy="827" rx="38" ry="9"/><text x="926" y="831">Ly6c</text></g>
<g id="n-Gnaq" class="g"><ellipse cx="868" cy="846" rx="38" ry="15"/><text x="868" y="850">Gnaq</text></g>
<g id="n-Adm" class="y2"><ellipse cx="652" cy="852" rx="38" ry="9"/><text x="652" y="856">Adm</text></g>
<g id="n-Rac2" class="yg"><ellipse cx="1151" cy="839" rx="38" ry="14"/><text x="1151" y="843">Rac2</text></g>
<g id="n-Dync1li1" class="yg"><ellipse cx="1203" cy="852" rx="38" ry="15"/><text x="1203" y="856">Dync1li1</text></g>
<g id="n-Pip5k1c" class="y2"><ellipse cx="1457" cy="747" rx="38" ry="8"/><text x="1457" y="751">Pip5k1c</text></g>
<g id="n-Tln1" class="y2"><ellipse cx="1563" cy="823" rx="38" ry="7.5"/><text x="1563" y="827">Tln1</text></g>
<g id="n-Vcl" class="y2"><ellipse cx="1498" cy="872" rx="38" ry="8"/><text x="1498" y="876">Vcl</text></g>
<g id="n-Arhgdib" class="y1"><ellipse cx="1251" cy="882" rx="38" ry="9"/><text x="1251" y="886">Arhgdib</text></g>
<g id="n-Cd53" class="y3"><ellipse cx="1111" cy="885" rx="38" ry="12"/><text x="1111" y="889">Cd53</text></g>
<g id="n-Hal" class="y1"><ellipse cx="892" cy="900" rx="38" ry="9"/><text x="890" y="904">Hal</text></g>
<g id="n-Bcl2a1" class="y2"><ellipse cx="948" cy="894" rx="38" ry="9"/><text x="948" y="898">Bcl2a1</text></g>
<g id="n-RT1-Bb" class="g1"><ellipse cx="1146" cy="910" rx="38" ry="15"/><text x="1147" y="914">RT1-Bb</text></g>
<g id="n-RT1-Ba" class="g"><ellipse cx="1201" cy="914" rx="38" ry="15"/><text x="1203" y="918">RT1-Ba</text></g>
<g id="n-Fcer1g" class="y1"><ellipse cx="1038" cy="923" rx="38" ry="7.5"/><text x="1038" y="927">Fcer1g</text></g>
<g id="n-Dync1li2" class="y3"><ellipse cx="1315" cy="939" rx="38" ry="13"/><text x="1315" y="943">Dync1li2</text></g>
<g id="n-Dync1i2" class="yg"><ellipse cx="1268" cy="943" rx="38" ry="14"/><text x="1268" y="947">Dync1i2</text></g>
<g id="n-Ctss" class="yg"><ellipse cx="1108" cy="958" rx="38" ry="14"/><text x="1108" y="962">Ctss</text></g>
<g id="n-Ttr" class="y2"><ellipse cx="986" cy="970" rx="38" ry="10"/><text x="986" y="974">Ttr</text></g>
<g id="n-RT1-Da" class="gg"><ellipse cx="1172" cy="972" rx="38" ry="16"/><text x="1172" y="976">RT1-Da</text></g>
<g id="n-RT1-DMb" class="yg"><ellipse cx="1222" cy="971" rx="38" ry="14"/><text x="1222" y="975">RT1-DMb</text></g>
<g id="n-Dctn2" class="y3"><ellipse cx="1283" cy="1003" rx="38" ry="13"/><text x="1283" y="1007">Dctn2</text></g>
<g id="n-Cd74" class="y3"><ellipse cx="1098" cy="1019" rx="38" ry="11"/><text x="1098" y="1023">Cd74</text></g>
<g id="n-Dync1h1" class="gg"><ellipse cx="1170" cy="1031" rx="38" ry="16"/><text x="1172" y="1035">Dync1h1</text></g>
<g id="n-RT1-Db1" class="yg"><ellipse cx="1225" cy="1035" rx="38" ry="14"/><text x="1225" y="1039">RT1-Db1</text></g>
<g id="n-Tubb2b" class="y1"><ellipse cx="1313" cy="1036" rx="38" ry="8"/><text x="1313" y="1040">Tubb2b</text></g>
<g id="n-Alk" class="y1"><ellipse cx="914" cy="1058" rx="38" ry="8"/><text x="914" y="1062">Alk</text></g>
<g id="n-Cp" class="y1"><ellipse cx="1107" cy="1077" rx="38" ry="8"/><text x="1107" y="1081">Cp</text></g>
<g id="n-Pcna" class="y2"><ellipse cx="1480" cy="585" rx="38" ry="8"/><text x="1480" y="589">Pcna</text></g>
<g id="n-Ns5atp9" class="y1"><ellipse cx="1530" cy="471" rx="38" ry="8"/><text x="1530" y="475">Ns5atp9</text></g>
<g id="n-Fancm" class="yg"><ellipse cx="1668" cy="433" rx="38" ry="15"/><text x="1668" y="437">Fancm</text></g>
<g id="n-Fancb" class="yg"><ellipse cx="1719" cy="432" rx="38" ry="15"/><text x="1722" y="436">Fancb</text></g>
<g id="n-Rpa1" class="gg"><ellipse cx="1617" cy="465" rx="38" ry="16"/><text x="1617" y="469">Rpa1</text></g>
<g id="n-Fanca" class="yg"><ellipse cx="1754" cy="463" rx="38" ry="13"/><text x="1754" y="467">Fanca</text></g>
<g id="n-Ube2t" class="gg"><ellipse cx="1645" cy="501" rx="38" ry="16"/><text x="1645" y="505">Ube2t</text></g>
<g id="n-Fancg" class="yg"><ellipse cx="1701" cy="484" rx="38" ry="15"/><text x="1701" y="488">Fancg</text></g>
<g id="n-RGD1306926" class="yg"><ellipse cx="1771" cy="509" rx="38" ry="14"/><text x="1771" y="513">RGD1306926</text></g>
<g id="n-ENSRNOG00000049286" class="gg"><ellipse cx="1607" cy="528" rx="38" ry="16"/><text x="1607" y="532">ENSRNOG00000049286</text></g>
<g id="n-Fanci" class="gg"><ellipse cx="1646" cy="551" rx="38" ry="16"/><text x="1646" y="555">Fanci</text></g>
<g id="n-Fance" class="yg"><ellipse cx="1760" cy="556" rx="38" ry="14"/><text x="1760" y="560">Fance</text></g>
<g id="n-Fancc" class="yg"><ellipse cx="1711" cy="536" rx="38" ry="14"/><text x="1711" y="540">Fancc</text></g>
<g id="n-Fancl" class="yg"><ellipse cx="1717" cy="587" rx="38" ry="14"/><text x="1717" y="591">Fancl</text></g>
<g id="n-RGD1564719" class="gg"><ellipse cx="1647" cy="598" rx="38" ry="16"/><text x="1647" y="602">RGD1564719</text></g>
</g>
</svg>
